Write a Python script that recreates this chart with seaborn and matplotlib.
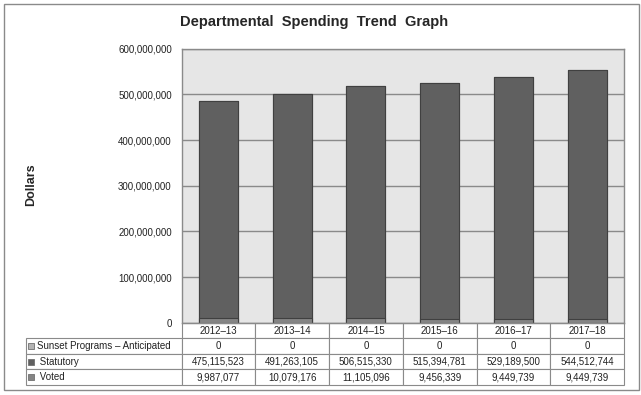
#!/usr/bin/env python3
"""Departmental spending trend: stacked bars with a data table underneath"""
import pandas as pd
import seaborn as sns
import matplotlib
matplotlib.use("Agg")
import matplotlib.pyplot as plt
from matplotlib.patches import Rectangle
from matplotlib.ticker import FuncFormatter

years = ["2012–13", "2013–14", "2014–15", "2015–16", "2016–17", "2017–18"]
sunset = [0, 0, 0, 0, 0, 0]
statutory = [475115523, 491263105, 506515330, 515394781, 529189500, 544512744]
voted = [9987077, 10079176, 11105096, 9456339, 9449739, 9449739]

series_names = ["Sunset Programs – Anticipated", " Statutory", " Voted"]
series_colors = ["#b4b4b4", "#606060", "#848484"]

sns.set_style("whitegrid", {"axes.facecolor": "#e6e6e6", "grid.color": "#8a8a8a",
                            "axes.edgecolor": "#8a8a8a"})
plt.rcParams["font.family"] = ["Liberation Sans", "DejaVu Sans"]

df = pd.DataFrame({"year": years, "sunset": sunset,
                   "statutory": statutory, "voted": voted})
df["voted_stat"] = df["voted"] + df["statutory"]
df["total"] = df["voted_stat"] + df["sunset"]

fig = plt.figure(figsize=(6.41, 3.95), dpi=100)
ax = fig.add_axes([0.2832, 0.1823, 0.6903, 0.6949])

# stacked bars drawn as cumulative layers, tallest first
sns.barplot(data=df, x="year", y="total", color=series_colors[0], saturation=1,
            width=0.53, edgecolor="#404040", linewidth=0.8, ax=ax)
sns.barplot(data=df, x="year", y="voted_stat", color=series_colors[1], saturation=1,
            width=0.53, edgecolor="#404040", linewidth=0.8, ax=ax)
sns.barplot(data=df, x="year", y="voted", color=series_colors[2], saturation=1,
            width=0.53, edgecolor="#404040", linewidth=0.8, ax=ax)

ax.set_ylim(0, 600_000_000)
ax.set_yticks(range(0, 600_000_001, 100_000_000))
ax.yaxis.set_major_formatter(FuncFormatter(lambda v, p: f"{int(v):,}"))
ax.tick_params(axis="y", length=0, pad=7, labelsize=7, labelcolor="#222222")
ax.tick_params(axis="x", length=0, labelbottom=False)
ax.grid(axis="x", visible=False)
ax.grid(axis="y", linewidth=1.0)
ax.set_axisbelow(True)
ax.set_xlabel("")
ax.set_ylabel("")
for s in ax.spines.values():
    s.set_color("#8a8a8a")
    s.set_linewidth(1.0)

# data table below the plot
head_w = 0.3514
rows = [[name] + [f"{v:,}" for v in vals]
        for name, vals in zip(series_names, [sunset, statutory, voted])]
tab = ax.table(cellText=rows, colLabels=[""] + years,
               colWidths=[head_w] + [1 / 6] * 6, cellLoc="center",
               bbox=[-head_w, -0.2259, 1 + head_w, 0.2259])
tab.auto_set_font_size(False)
tab.set_fontsize(7)
for (r, c), cell in tab.get_celld().items():
    cell.set_edgecolor("#8a8a8a")
    cell.set_linewidth(0.8)
    cell.get_text().set_color("#222222")
    if c == 0:
        cell.get_text().set_horizontalalignment("left")
        cell.PAD = 0.072
        if r == 0:
            cell.visible_edges = ""

# little legend keys in the row header column
row_h = 0.2259 / 4
for i, col in enumerate(series_colors):
    yc = -row_h * (i + 1.5)
    ax.add_patch(Rectangle((-head_w + 0.005, yc - 0.0105), 0.0125, 0.021,
                           transform=ax.transAxes, clip_on=False,
                           facecolor=col, edgecolor="#707070", linewidth=0.6))

fig.text(0.49, 0.944, "Departmental  Spending  Trend  Graph", ha="center",
         va="center", fontsize=10.5, fontweight="bold")
fig.text(0.048, 0.532, "Dollars", rotation=90, ha="center", va="center",
         fontsize=9, fontweight="bold")

fig.patches.append(Rectangle((0.0055, 0.0114), 0.9906, 0.9797, transform=fig.transFigure,
                             fill=False, edgecolor="#8a8a8a", linewidth=1.0))

fig.savefig("out.png", dpi=100)
